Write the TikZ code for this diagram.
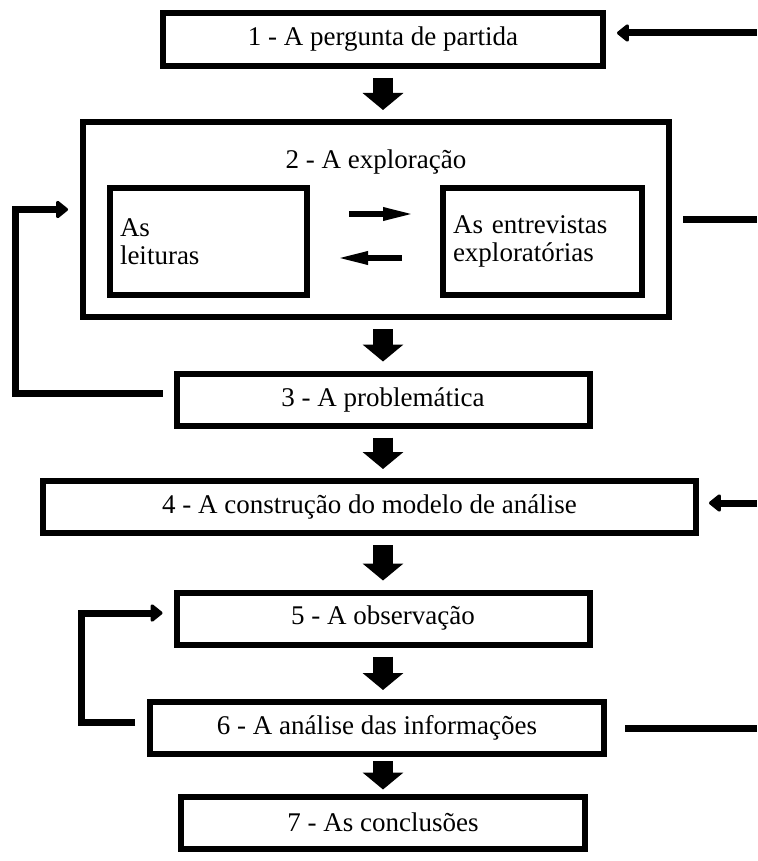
\documentclass[tikz,border=0pt]{standalone}
\usepackage{fontspec}
\setmainfont{Liberation Serif}
\usetikzlibrary{arrows.meta,positioning}

\begin{document}
\begin{tikzpicture}[x=1pt,y=1pt,on grid,
  font=\fontsize{13.5pt}{14pt}\selectfont,
  box/.style={draw,line width=3pt,minimum height=26pt,inner sep=0pt},
  inbox/.style={draw,line width=3pt,minimum height=53.5pt,inner sep=5pt,align=left},
  bigarrow/.style={line width=10pt,-{Triangle[width=20pt,length=8.5pt]},shorten <=4.5pt,shorten >=4.5pt},
  feedline/.style={line width=3.5pt},
  backarrow/.style={feedline,-{Triangle[round,width=10pt,length=6.5pt]}},
  slim/.style={line width=3pt,-{Triangle[width=6pt,length=16pt]}}]
\useasboundingbox (0,0) rectangle (378.5,-430.5);

\node[box,minimum width=220pt,minimum height=26.5pt] (b1) at (191.5,-19.75) {1 - A pergunta de partida};
\node[box,minimum width=293pt,minimum height=97.5pt] (b2) [below left=90pt and 3.5pt of b1] {};
\node (t2) [below=12pt of b2.north] {2 - A exploração};
\node[inbox,text width=88.5pt] (lei) [below left=11pt and 83.75pt of b2] {As\\leituras};
\node[inbox,text width=89.5pt] (ent) [below right=11pt and 83.25pt of b2] {As entrevistas\\exploratórias};
\node[box,minimum width=206.5pt] (b3) [below right=90pt and 3.5pt of b2] {3 - A problemática};
\node[box,minimum width=326.5pt] (b4) [below left=53.75pt and 6.75pt of b3] {4 - A construção do modelo de análise};
\node[box,minimum width=206.5pt] (b5) [below right=55.75pt and 6.75pt of b4] {5 - A observação};
\node[box,minimum width=227pt] (b6) [below left=54.75pt and 3pt of b5] {6 - A análise das informações};
\node[box,minimum width=202pt] (b7) [below right=47.25pt and 3pt of b6] {7 - As conclusões};

% pontos na margem direita
\coordinate (r1) at (378.5,-16.5);
\coordinate (r2) at (378.5,-109.75);
\coordinate (r4) at (378.5,-251.5);
\coordinate (r6) at (378.5,-364);

% setas principais
\draw[bigarrow] (b1.south) -- (b1.south |- b2.north);
\draw[bigarrow] (b3.north |- b2.south) -- (b3.north);
\draw[bigarrow] (b3.south) -- (b3.south |- b4.north);
\draw[bigarrow] (b5.north |- b4.south) -- (b5.north);
\draw[bigarrow] (b5.south) -- (b5.south |- b6.north);
\draw[bigarrow,shorten <=2pt,shorten >=2pt] (b7.north |- b6.south) -- (b7.north);

% leituras <-> entrevistas
\draw[slim,shorten <=19.5pt,shorten >=12.5pt] ([yshift=13.75pt]lei.east) -- ([yshift=13.75pt]ent.west);
\draw[slim,shorten <=19pt,shorten >=13pt] ([yshift=-8.25pt]ent.west) -- ([yshift=-8.25pt]lei.east);

% retornos
\draw[backarrow,shorten <=5.5pt,shorten >=6pt] ([yshift=3pt]b3.west) -- ++(-79,0) |- ([yshift=5pt]b2.west);
\draw[backarrow,shorten <=6pt,shorten >=5.5pt] ([yshift=3pt]b6.west) -- ++(-33,0) |- ([yshift=2.75pt]b5.west);

% ligacoes a direita
\draw[backarrow,shorten >=5.5pt] (r1) -- (r1 -| b1.east);
\draw[feedline,shorten <=5.5pt] (b2.east) -- (r2);
\draw[backarrow,shorten >=5pt] (r4) -- (r4 -| b4.east);
\draw[feedline,shorten <=9pt] (b6.east) -- (r6);
\end{tikzpicture}
\end{document}
